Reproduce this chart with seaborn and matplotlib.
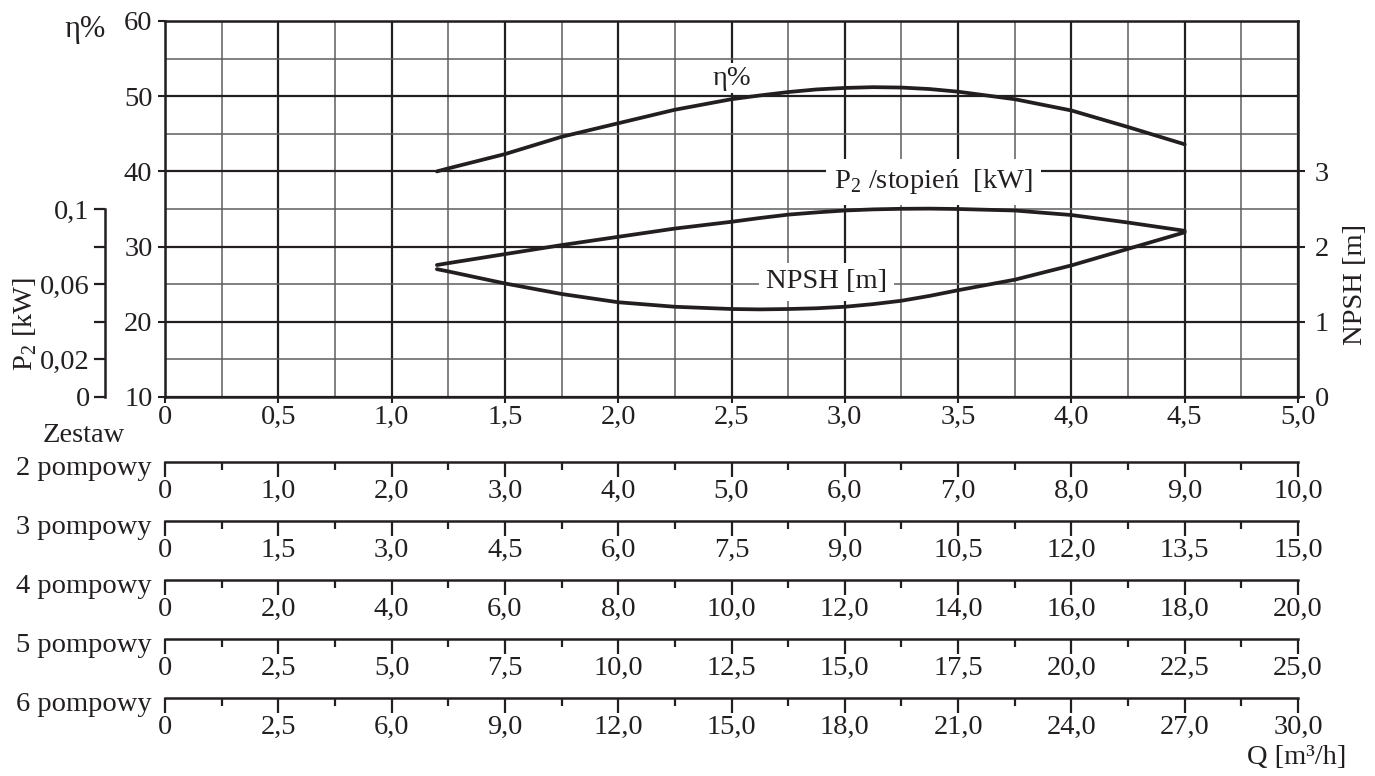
import numpy as np
import matplotlib
matplotlib.use("Agg")
import matplotlib.pyplot as plt
from matplotlib.ticker import MultipleLocator, FixedLocator, FixedFormatter
import seaborn as sns

# flow Q [m3/h] for one pump
q = [1.2, 1.25, 1.5, 1.75, 2.0, 2.25, 2.5, 2.625, 2.75, 2.875, 3.0, 3.125, 3.25, 3.375,
     3.5, 3.75, 4.0, 4.25, 4.5]
eta = [40.0, 40.4, 42.3, 44.6, 46.4, 48.2, 49.6, 50.1, 50.55, 50.9, 51.1, 51.2, 51.15, 50.95,
       50.6, 49.6, 48.1, 45.9, 43.6]
p2 = [0.0702, 0.0712, 0.076, 0.0808, 0.0852, 0.0896, 0.0932, 0.0952, 0.097, 0.0982, 0.0992,
      0.0998, 0.1001, 0.1002, 0.1000, 0.0992, 0.0968, 0.0928, 0.0884]
npsh = [1.70, 1.67, 1.51, 1.37, 1.26, 1.20, 1.17, 1.165, 1.17, 1.18, 1.20, 1.235, 1.28, 1.345,
        1.42, 1.56, 1.75, 1.97, 2.19]

q_ticks = [0, 0.5, 1.0, 1.5, 2.0, 2.5, 3.0, 3.5, 4.0, 4.5, 5.0]
q_labels = ["0", "0,5", "1,0", "1,5", "2,0", "2,5", "3,0", "3,5", "4,0", "4,5", "5,0"]
eta_ticks = [10, 20, 30, 40, 50, 60]
p2_ticks = [0, 0.02, 0.04, 0.06, 0.08, 0.1]
p2_labels = ["0", "0,02", "", "0,06", "", "0,1"]
npsh_ticks = [0, 1, 2, 3]

row_names = ["2 pompowy", "3 pompowy", "4 pompowy", "5 pompowy", "6 pompowy"]
row_labels = [
    ["0", "1,0", "2,0", "3,0", "4,0", "5,0", "6,0", "7,0", "8,0", "9,0", "10,0"],
    ["0", "1,5", "3,0", "4,5", "6,0", "7,5", "9,0", "10,5", "12,0", "13,5", "15,0"],
    ["0", "2,0", "4,0", "6,0", "8,0", "10,0", "12,0", "14,0", "16,0", "18,0", "20,0"],
    ["0", "2,5", "5,0", "7,5", "10,0", "12,5", "15,0", "17,5", "20,0", "22,5", "25,0"],
    ["0", "2,5", "6,0", "9,0", "12,0", "15,0", "18,0", "21,0", "24,0", "27,0", "30,0"],
]

sns.set_style("white")
plt.rcParams["font.family"] = ["Liberation Serif", "DejaVu Serif"]
plt.rcParams["mathtext.fontset"] = "custom"
plt.rcParams["mathtext.rm"] = "Liberation Serif"
FS = 20.5
INK = "#231f20"

W, H = 1375, 776
fig = plt.figure(figsize=(W / 100, H / 100), dpi=100)


def fx(px):
    return px / W


def fy(py):
    return 1 - py / H


x0, x1 = 165, 1298
ax = fig.add_axes([fx(x0), fy(397), fx(x1 - x0), (397 - 21) / H])
ax.set_xlim(0, 5)
ax.set_ylim(10, 60)
ax.xaxis.set_major_locator(FixedLocator(q_ticks))
ax.xaxis.set_major_formatter(FixedFormatter(q_labels))
ax.xaxis.set_minor_locator(MultipleLocator(0.25))
ax.yaxis.set_major_locator(FixedLocator(eta_ticks))
ax.yaxis.set_minor_locator(MultipleLocator(5))
ax.grid(which="major", color=INK, lw=1.6)
ax.grid(which="minor", color="#5e5e5e", lw=1.1)
ax.tick_params(axis="x", which="major", direction="out", length=4, width=1.5,
               pad=1.5, labelsize=FS, colors=INK, bottom=True)
ax.tick_params(axis="y", which="major", direction="out", length=5, width=1.5,
               pad=4, labelsize=FS, colors=INK, left=True)
ax.tick_params(which="minor", length=0)
for s in ax.spines.values():
    s.set_color(INK)
    s.set_linewidth(1.8)
ax.set_axisbelow(True)

sns.lineplot(x=q, y=eta, ax=ax, color=INK, lw=2.7, zorder=5)

# P2 axis, detached on the left
ax_p2 = ax.twinx()
ax_p2.set_ylim(0, 0.2)
for name, s in ax_p2.spines.items():
    s.set_visible(name == "left")
ax_p2.spines["left"].set_position(("axes", (105 - x0) / (x1 - x0)))
ax_p2.spines["left"].set_bounds(0, 0.1)
ax_p2.spines["left"].set_linewidth(1.8)
ax_p2.spines["left"].set_color(INK)
ax_p2.yaxis.set_ticks_position("left")
ax_p2.yaxis.set_major_locator(FixedLocator(p2_ticks))
ax_p2.yaxis.set_major_formatter(FixedFormatter(p2_labels))
ax_p2.tick_params(axis="y", direction="out", length=8, width=1.6, pad=3,
                  labelsize=FS, colors=INK, left=True)
sns.lineplot(x=q, y=p2, ax=ax_p2, color=INK, lw=2.7)

# NPSH axis on the right
ax_n = ax.twinx()
ax_n.set_ylim(0, 5)
for s in ax_n.spines.values():
    s.set_visible(False)
ax_n.yaxis.set_major_locator(FixedLocator(npsh_ticks))
ax_n.tick_params(axis="y", direction="out", length=5, width=1.5, pad=7,
                 labelsize=FS, colors=INK, right=True)
sns.lineplot(x=q, y=npsh, ax=ax_n, color=INK, lw=2.7)

ax.text(2.5, 52.4, "η%", fontsize=FS, ha="center", va="center", color=INK,
        bbox=dict(facecolor="white", edgecolor="none", pad=2), zorder=4)
ax.text(3.39, 38.6, "P$_\\mathregular{2}$ /stopień  [kW]", fontsize=FS, ha="center",
        va="center", color=INK, bbox=dict(facecolor="white", edgecolor="none", pad=6), zorder=4)
ax.text(2.92, 25.3, "NPSH [m]", fontsize=FS, ha="center", va="center", color=INK,
        bbox=dict(facecolor="white", edgecolor="none", pad=5), zorder=4)

fig.text(fx(85), fy(30), "η%", fontsize=22, ha="center", va="center", color=INK)
fig.text(fx(25), fy(324), "P$_\\mathregular{2}$ [kW]", fontsize=FS, ha="center", va="center",
         rotation=90, color=INK)
fig.text(fx(1356), fy(284), "NPSH [m]", fontsize=FS, ha="center", va="center",
         rotation=90, color=INK)
fig.text(fx(84), fy(435), "Zestaw", fontsize=FS, ha="center", va="center", color=INK)
fig.text(fx(1346), fy(758), "Q [m³/h]", fontsize=FS, ha="right", va="center", color=INK)

# pump-set flow scales
row_y = [462, 521, 580, 639, 698]
for name, labels, ry in zip(row_names, row_labels, row_y):
    rax = fig.add_axes([fx(x0), fy(ry), fx(x1 - x0), 0.0005])
    rax.set_xlim(0, 5)
    rax.set_yticks([])
    rax.patch.set_alpha(0)
    for sname, s in rax.spines.items():
        s.set_visible(sname == "bottom")
    rax.spines["bottom"].set_linewidth(1.8)
    rax.spines["bottom"].set_color(INK)
    rax.xaxis.set_major_locator(FixedLocator(q_ticks))
    rax.xaxis.set_major_formatter(FixedFormatter(labels))
    rax.xaxis.set_minor_locator(FixedLocator([v + 0.25 for v in q_ticks[:-1]]))
    rax.tick_params(axis="x", which="major", direction="out", length=11, width=1.6,
                    pad=1, labelsize=FS, colors=INK, bottom=True)
    rax.tick_params(axis="x", which="minor", direction="out", length=6, width=1.6,
                    colors=INK, bottom=True)
    fig.text(fx(152), fy(ry + 13), name, fontsize=FS, ha="right", va="baseline", color=INK)

fig.savefig("out.png", dpi=100, facecolor="white")
